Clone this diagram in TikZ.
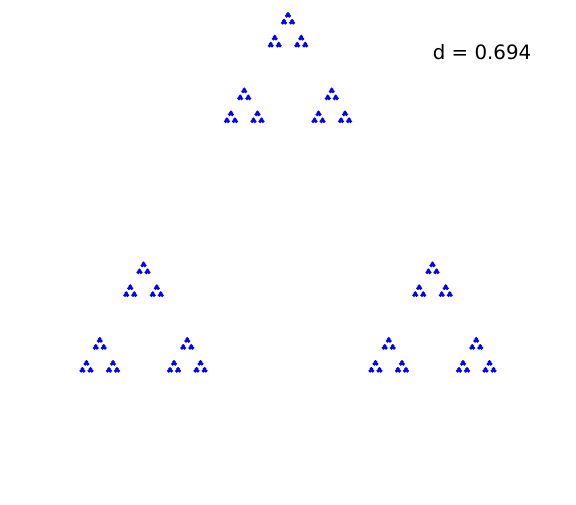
\documentclass[tikz,border=0pt]{standalone}
\usepackage{fontspec}
\setmainfont{DejaVu Sans}
\begin{document}
\begin{tikzpicture}[x=1pt,y=-1pt,
  dotstyle/.style={fill={rgb,255:red,0;green,0;blue,255}},
  labelstyle/.style={font=\fontsize{19.8}{23}\selectfont, inner sep=0pt}]
\useasboundingbox (0,0) rectangle (576,504);
\foreach \ax/\ay in {288/13, 80.7/371, 495.3/371}{
 \foreach \bx/\by in {288/13, 80.7/371, 495.3/371}{
  \foreach \cx/\cy in {288/13, 80.7/371, 495.3/371}{
   \foreach \dx/\dy in {288/13, 80.7/371, 495.3/371}{
      \pgfmathsetmacro{\px}{0.697*(\ax + 0.303*\bx + 0.091809*\cx + 0.027818*\dx)}
      \pgfmathsetmacro{\py}{0.697*(\ay + 0.303*\by + 0.091809*\cy + 0.027818*\dy)}
      \fill[dotstyle] (\px+2.43,\py+0.8) circle (1.9) (\px+1.15,\py+3.0) circle (1.9) (\px+3.71,\py+3.0) circle (1.9);
   }
  }
 }
}
\node[labelstyle] (dlabel) at (482,52.5) {d = 0.694};
\end{tikzpicture}
\end{document}
